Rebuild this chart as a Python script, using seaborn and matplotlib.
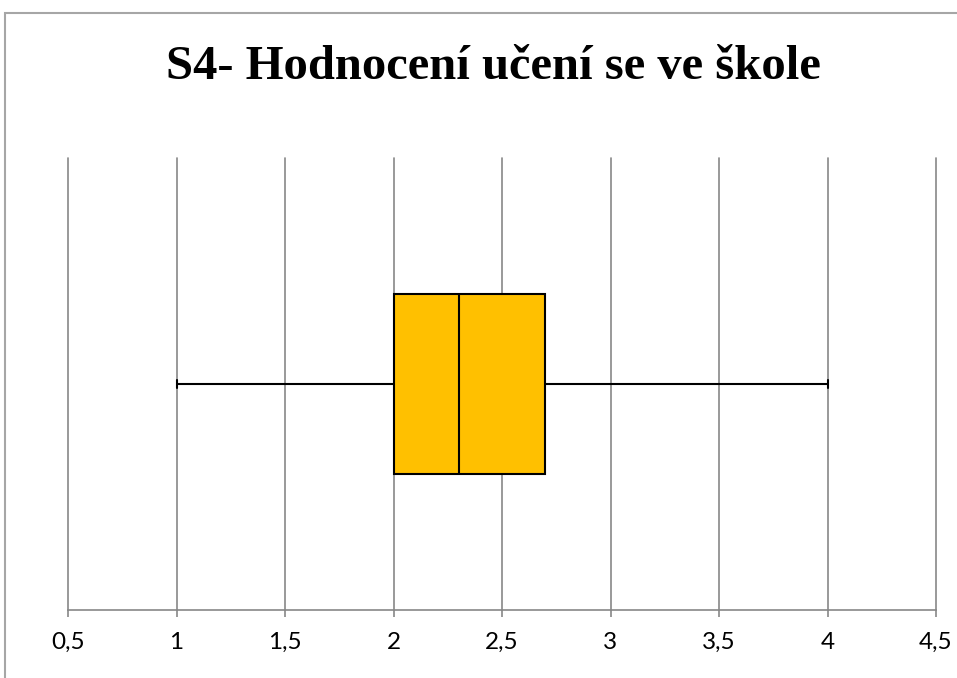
import seaborn as sns
import matplotlib.pyplot as plt
import matplotlib.patches as mpatches
import pandas as pd

# hodnoty: minimum, Q1, medián, Q3, maximum
hodnoty = [1.0, 2.0, 2.3, 2.7, 4.0]
x_ticks = [0.5, 1, 1.5, 2, 2.5, 3, 3.5, 4, 4.5]
x_labels = ["0,5", "1", "1,5", "2", "2,5", "3", "3,5", "4", "4,5"]
titulek = "S4- Hodnocení učení se ve škole"

df = pd.DataFrame({"hodnoceni": hodnoty, "skupina": ["S4"] * len(hodnoty)})

sns.set_theme(style="white")
plt.rcParams['font.family'] = ['Lato', 'DejaVu Sans']

fig = plt.figure(figsize=(9.57, 6.78), dpi=100)
ax = fig.add_axes([68 / 957, 1 - 610 / 678, (936 - 68) / 957, (610 - 158) / 678])

sns.boxplot(data=df, x="hodnoceni", y="skupina", orient="h", ax=ax,
            whis=(0, 100), width=0.4, color="#FFC000", saturation=1,
            linecolor="black", linewidth=1.5, capwidths=0.018,
            showfliers=False)

ax.set_xlim(0.5, 4.5)
ax.set_ylim(0.5, -0.5)
ax.set_xticks(x_ticks)
ax.set_xticklabels(x_labels, fontsize=17.5)
ax.set_yticks([])
ax.set_xlabel("")
ax.set_ylabel("")

ax.grid(axis="x", color="#878787", linewidth=1.2)
ax.set_axisbelow(True)
for s in ["top", "left", "right"]:
    ax.spines[s].set_visible(False)
ax.spines["bottom"].set_color("#878787")
ax.spines["bottom"].set_linewidth(1.2)
ax.tick_params(axis="x", bottom=True, direction="out", length=5, width=1.2,
               color="#878787", pad=11, labelcolor="black")
for gl in ax.get_xgridlines():
    gl.set_clip_on(False)

fig.text(493 / 957, 1 - 79 / 678, titulek, ha="center", va="baseline", color="black",
         fontsize=35, fontweight="bold", family=["Liberation Serif", "DejaVu Serif"])

# rámeček oblasti grafu
ramecek = mpatches.Rectangle((5 / 957, -0.2), 1.2, 1.2 - 13 / 678,
                             transform=fig.transFigure, fill=False,
                             edgecolor="#a6a6a6", linewidth=1.5)
fig.add_artist(ramecek)

fig.savefig("out.png", dpi=100)
